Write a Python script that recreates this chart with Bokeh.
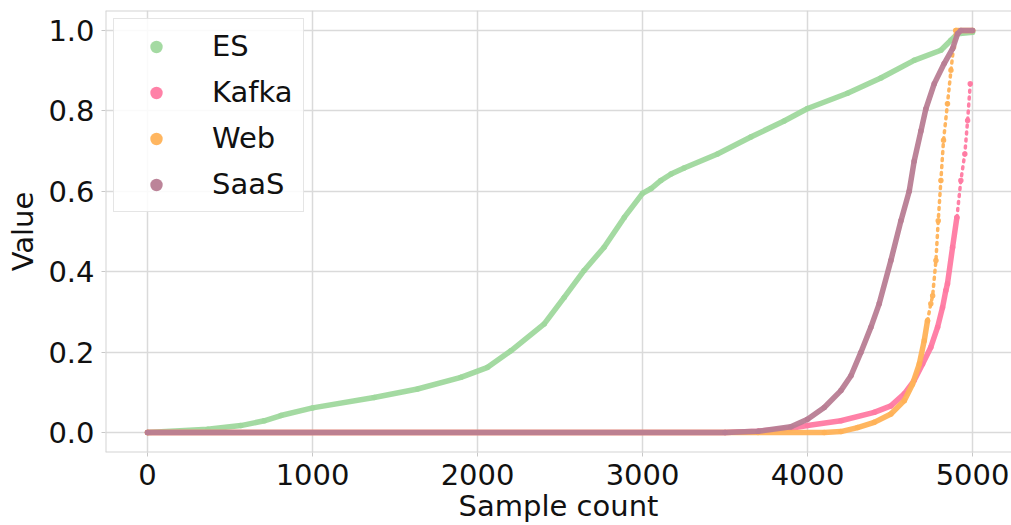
from bokeh.plotting import figure
from bokeh.models import (Range1d, FixedTicker, Legend, LegendItem, Span,
                          CustomJSTickFormatter)
from bokeh.embed import file_html
from bokeh.resources import INLINE

# Sorted per-sample values for each workload (sample index -> value)
es_x = [0, 364, 565, 707, 808, 1000, 1373, 1636, 1899, 2061, 2202, 2404, 2525, 2646,
        2767, 2889, 3000, 3052, 3111, 3173, 3252, 3454, 3656, 3858, 4000, 4242, 4444,
        4646, 4808, 4869, 4909, 5000]
es_y = [0.0, 0.008, 0.017, 0.029, 0.042, 0.061, 0.087, 0.108, 0.137, 0.162, 0.203, 0.27,
        0.336, 0.403, 0.461, 0.535, 0.595, 0.607, 0.627, 0.643, 0.658, 0.693, 0.735, 0.775,
        0.806, 0.844, 0.882, 0.926, 0.951, 0.976, 0.992, 0.996]

kafka_x = [0, 3500, 3700, 3899, 4000, 4202, 4404, 4505, 4586, 4646, 4697, 4747, 4788,
           4818, 4838, 4848, 4879, 4905, 4929, 4953, 4970, 4986]
kafka_y = [0.0, 0.0, 0.003, 0.010, 0.017, 0.029, 0.05, 0.066, 0.096, 0.129, 0.17, 0.212,
           0.262, 0.311, 0.353, 0.37, 0.461, 0.535, 0.627, 0.693, 0.776, 0.868]
kafka_sparse_from = 17

web_x = [0, 3700, 4101, 4202, 4303, 4404, 4505, 4586, 4636, 4677, 4707, 4727, 4747, 4758,
         4778, 4792, 4808, 4824, 4848, 4869, 4885, 4899, 5000]
web_y = [0.0, 0.0, 0.0, 0.002, 0.012, 0.025, 0.046, 0.079, 0.12, 0.17, 0.228, 0.278, 0.32,
         0.34, 0.428, 0.527, 0.627, 0.727, 0.818, 0.901, 0.959, 1.0, 1.0]
web_sparse_from = 11
web_sparse_to = 21

saas_x = [0, 3500, 3700, 3899, 4000, 4101, 4202, 4263, 4323, 4384, 4434, 4505, 4566, 4616,
          4646, 4687, 4717, 4768, 4828, 4879, 4909, 4929, 5000]
saas_y = [0.0, 0.0, 0.003, 0.014, 0.033, 0.062, 0.104, 0.141, 0.199, 0.262, 0.32, 0.428,
          0.527, 0.60, 0.675, 0.75, 0.805, 0.868, 0.918, 0.955, 0.992, 1.0, 1.0]

series_names = ["ES", "Kafka", "Web", "SaaS"]
series_colors = ["#9fd89d", "#ff7aa2", "#ffb257", "#b87d93"]

x_ticks = [0, 1000, 2000, 3000, 4000, 5000]
y_ticks = [0.0, 0.2, 0.4, 0.6, 0.8, 1.0]

FONT = "DejaVu Sans"
FS = "29px"
GRID = "#dadada"
FRAME = "#d4d4d4"
X0, X1 = -255, 5236
Y0, Y1 = -0.05, 1.05

p = figure(width=1011, height=525, output_backend="svg", toolbar_location=None,
           x_range=Range1d(X0, X1), y_range=Range1d(Y0, Y1),
           min_border_left=105, min_border_right=0, min_border_top=10,
           min_border_bottom=73)
p.background_fill_color = "white"
p.border_fill_color = "white"
p.outline_line_color = None

for ax, ticks in ((p.xaxis, x_ticks), (p.yaxis, y_ticks)):
    ax.ticker = FixedTicker(ticks=ticks)
    ax.axis_line_color = None
    ax.major_tick_line_color = "#c8c8c8"
    ax.major_tick_out = 4
    ax.major_tick_in = 0
    ax.minor_tick_line_color = None
    ax.major_label_text_font = FONT
    ax.major_label_text_font_size = FS
    ax.major_label_text_color = "#111111"
    ax.axis_label_text_font = FONT
    ax.axis_label_text_font_size = FS
    ax.axis_label_text_font_style = "normal"
    ax.axis_label_text_color = "#111111"

p.xaxis.axis_label = "Sample count"
p.yaxis.axis_label = "Value"
p.xaxis.major_label_standoff = 7
p.yaxis.major_label_standoff = 7
p.xaxis.axis_label_standoff = 1
p.yaxis.axis_label_standoff = 5
p.yaxis.formatter = CustomJSTickFormatter(code="return tick.toFixed(1);")

p.xgrid.grid_line_color = GRID
p.ygrid.grid_line_color = GRID
p.xgrid.grid_line_width = 1.5
p.ygrid.grid_line_width = 1.5

# frame on the left, top and bottom edges
for loc, dim in ((X0, "height"), (Y0, "width"), (Y1, "width")):
    p.add_layout(Span(location=loc, dimension=dim, line_color=FRAME, line_width=2))

LW = 5.5
items = []


def draw(name, color, xs, ys, dense_ranges, sparse_ranges):
    for a, b in dense_ranges:
        p.line(xs[a:b], ys[a:b], line_color=color, line_width=LW, line_alpha=0.95,
               line_cap="round", line_join="round")
    for a, b in sparse_ranges:
        p.line(xs[a:b], ys[a:b], line_color=color, line_width=3.5, line_alpha=0.95,
               line_dash="2 5", line_cap="round", line_join="round")
    pts = p.scatter(xs, ys, size=LW, color=color, alpha=0.95, line_color=None)
    items.append(LegendItem(label=name, renderers=[pts]))


draw(series_names[0], series_colors[0], es_x, es_y, [(0, len(es_x))], [])
draw(series_names[1], series_colors[1], kafka_x, kafka_y,
     [(0, kafka_sparse_from + 1)], [(kafka_sparse_from, len(kafka_x))])
draw(series_names[2], series_colors[2], web_x, web_y,
     [(0, web_sparse_from + 1), (web_sparse_to, len(web_x))],
     [(web_sparse_from, web_sparse_to + 1)])
draw(series_names[3], series_colors[3], saas_x, saas_y, [(0, len(saas_x))], [])

legend = Legend(items=items, location="top_left")
legend.margin = 8
legend.padding = 10
legend.spacing = 12
legend.glyph_width = 64
legend.glyph_height = 31
legend.label_height = 31
legend.label_standoff = 24
legend.label_text_font = FONT
legend.label_text_font_size = FS
legend.label_text_color = "#111111"
legend.border_line_color = "#cccccc"
legend.border_line_width = 1.5
legend.background_fill_alpha = 0.85
p.add_layout(legend, "center")

open("out.html", "w").write(file_html(p, INLINE))
